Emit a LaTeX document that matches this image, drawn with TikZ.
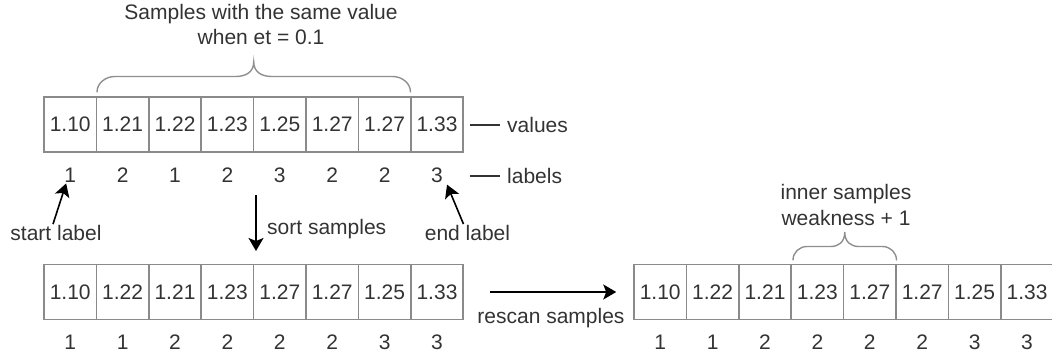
\documentclass[tikz,border=0pt]{standalone}
\usepackage{fontspec}
\setmainfont{Liberation Sans}
\usetikzlibrary{arrows.meta}
\definecolor{ink}{HTML}{333333}
\definecolor{cellline}{HTML}{8A8A8A}
\definecolor{bracecol}{HTML}{8F8F8F}
% curly brace over a run of cells: left x, right x, foot y, shoulder height, tip height, corner size
\newcommand{\cellbrace}[6]{%
  \draw[bracepath] (#1,#3)
    .. controls (#1,{#3-0.55*#4}) and ({#1+0.45*#6},{#3-#4}) .. ({#1+#6},{#3-#4})
    -- ({(#1+#2)/2-#6},{#3-#4})
    .. controls ({(#1+#2)/2-0.45*#6},{#3-#4}) and ({(#1+#2)/2},{#3-#4-0.3*(#5-#4)}) .. ({(#1+#2)/2},{#3-#5})
    .. controls ({(#1+#2)/2},{#3-#4-0.3*(#5-#4)}) and ({(#1+#2)/2+0.45*#6},{#3-#4}) .. ({(#1+#2)/2+#6},{#3-#4})
    -- ({#2-#6},{#3-#4})
    .. controls ({#2-0.45*#6},{#3-#4}) and (#2,{#3-0.55*#4}) .. (#2,#3);}
\begin{document}
\begin{tikzpicture}[x=1pt,y=-1pt,
  font=\fontsize{21}{25.5}\selectfont, text=ink,
  every node/.style={inner sep=0pt},
  cell/.style={draw=cellline, line width=1.5pt, minimum width=52.4pt, minimum height=55pt},
  arr/.style={-{Stealth[length=13pt,width=15pt,inset=3pt]}, line width=1.6pt, black},
  legendline/.style={line width=1.5pt, ink},
  bracepath/.style={draw=bracecol, line width=1.4pt, line cap=round}]
\useasboundingbox (0,0) rectangle (1052,358);

% original samples
\foreach \v [count=\i from 0] in {1.10,1.21,1.22,1.23,1.25,1.27,1.27,1.33}
  \node[cell] (t\i) at ({70.2+52.4*\i},124.5) {\v};
\foreach \l [count=\i from 0] in {1,2,1,2,3,2,2,3}
  \node (tl\i) at ({70.2+52.4*\i},175) {\l};

% sorted samples
\foreach \v [count=\i from 0] in {1.10,1.22,1.21,1.23,1.27,1.27,1.25,1.33}
  \node[cell] (b\i) at ({70.2+52.4*\i},292) {\v};
\foreach \l [count=\i from 0] in {1,1,2,2,2,2,3,3}
  \node (bl\i) at ({70.2+52.4*\i},342) {\l};

% rescanned samples
\foreach \v [count=\i from 0] in {1.10,1.22,1.21,1.23,1.27,1.27,1.25,1.33}
  \node[cell] (r\i) at ({660.2+52.4*\i},292) {\v};
\foreach \l [count=\i from 0] in {1,1,2,2,2,2,3,3}
  \node (rl\i) at ({660.2+52.4*\i},342) {\l};

% braces and their captions
\cellbrace{97}{410.5}{92}{15.5}{30}{18}
\node[align=center] (same) at (261,24.6) {Samples with the same value\\when et = 0.1};
\cellbrace{793}{896.5}{260}{13.5}{28}{14}
\node[align=center] (inner) at (846,205.1) {inner samples\\weakness + 1};

% legend
\node[anchor=west] (valuesTxt) at (507,125) {values};
\draw[legendline] ([xshift=-37pt]valuesTxt.west) -- ([xshift=-7pt]valuesTxt.west);
\node[anchor=west] (labelsTxt) at (507,176) {labels};
\draw[legendline] ([xshift=-37pt]labelsTxt.west) -- ([xshift=-7pt]labelsTxt.west);

% start / end markers
\node (startTxt) at (56,233) {start label};
\draw[arr] ([xshift=-3pt,yshift=1pt]startTxt.north) -- ([xshift=2pt,yshift=-1pt]tl0.south west);
\node (endTxt) at (467.5,233) {end label};
\draw[arr] ([xshift=-4pt,yshift=1pt]endTxt.north) -- ([xshift=4pt,yshift=-2pt]tl7.south east);

% sort step
\coordinate (sortTop) at (256,195);
\coordinate (sortEnd) at (256,251);
\draw[arr] (sortTop) -- (sortEnd);
\node[anchor=west] (sortTxt) at (267,229) {sort samples};

% rescan step
\draw[arr] ([xshift=26pt]b7.east) -- ([xshift=-17pt]r0.west);
\node (rescanTxt) at (551,318) {rescan samples};
\end{tikzpicture}
\end{document}
